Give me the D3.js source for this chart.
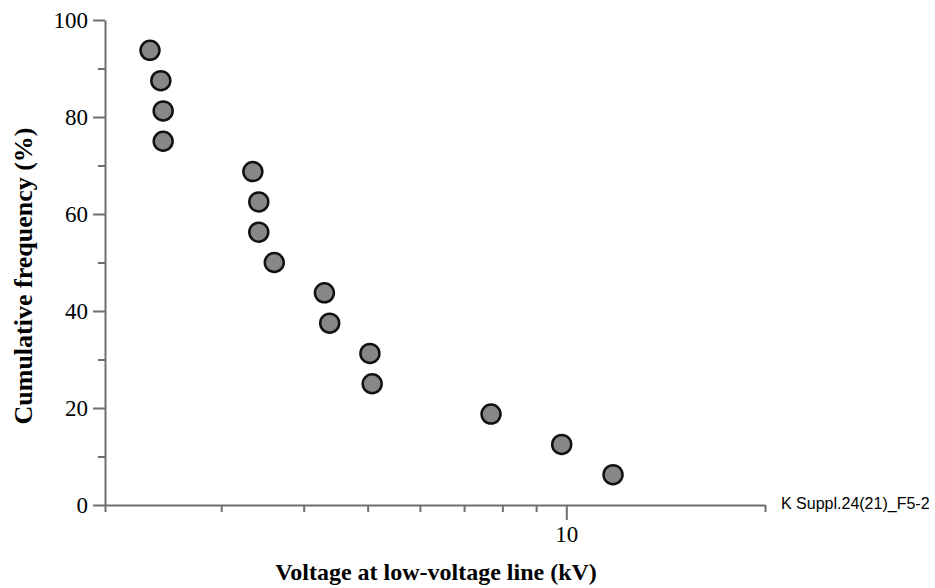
<!DOCTYPE html>
<html>
<head>
<meta charset="utf-8">
<script src="https://cdn.jsdelivr.net/npm/d3@7"></script>
<style>
    body { margin: 0; background: #fff; }
    .axis path, .axis line { stroke: #6e6e6e; stroke-width: 2px; }
    .axis text { font-family: "Liberation Serif", "Times New Roman", serif; font-size: 23px; fill: #000; }
    .title { font-family: "Liberation Serif", "Times New Roman", serif; font-weight: bold; }
</style>
</head>
<body>
<div id="chart"></div>
<script>
// measured points, voltage (kV) vs cumulative frequency (%)
let voltage = [2.34, 2.43, 2.45, 2.45, 3.35, 3.42, 3.42, 3.61, 4.30, 4.38, 5.04, 5.08, 7.69, 9.84, 11.77];
let frequency = [93.75, 87.5, 81.25, 75, 68.75, 62.5, 56.25, 50, 43.75, 37.5, 31.25, 25, 18.75, 12.5, 6.25];

let xMinorTicks = [2, 3, 4, 5, 6, 7, 8, 9, 20];
let xMajorTicks = [10];
let yMajorTicks = [0, 20, 40, 60, 80, 100];
let yMinorTicks = [10, 30, 50, 70, 90];

let margin = {top: 20, right: 170, bottom: 83, left: 105};
let width = 935 - margin.left - margin.right;
let height = 588 - margin.top - margin.bottom;

let svg = d3.select("#chart").append("svg")
    .attr("width", 935)
    .attr("height", 588);

let g = svg.append("g")
    .attr("transform", `translate(${margin.left}, ${margin.top})`);

let x = d3.scaleLog().domain([2, 20]).range([0, width]);
let y = d3.scaleLinear().domain([0, 100]).range([height, 0]);

// x axis: minor ticks first, then the labelled one
g.append("g")
    .attr("class", "axis")
    .attr("transform", `translate(0, ${height})`)
    .call(d3.axisBottom(x).tickValues(xMinorTicks).tickSize(7).tickSizeOuter(0).tickFormat(""));

g.append("g")
    .attr("class", "axis")
    .attr("transform", `translate(0, ${height})`)
    .call(d3.axisBottom(x).tickValues(xMajorTicks).tickSize(15).tickSizeOuter(0).tickPadding(6).tickFormat(d3.format("d")))
    .select(".domain").remove();

// y axis
g.append("g")
    .attr("class", "axis")
    .call(d3.axisLeft(y).tickValues(yMinorTicks).tickSize(7).tickSizeOuter(0).tickFormat(""));

g.append("g")
    .attr("class", "axis")
    .call(d3.axisLeft(y).tickValues(yMajorTicks).tickSize(12).tickSizeOuter(0).tickPadding(5))
    .select(".domain").remove();

// points
g.selectAll(".dot")
    .data(voltage.map((v, i) => ({v: v, f: frequency[i]})))
    .enter().append("circle")
    .attr("class", "dot")
    .attr("cx", d => x(d.v))
    .attr("cy", d => y(d.f))
    .attr("r", 9.5)
    .attr("fill", "#878787")
    .attr("stroke", "#111")
    .attr("stroke-width", 2.5);

// axis titles
svg.append("text")
    .attr("class", "title")
    .attr("x", 436)
    .attr("y", 580)
    .attr("text-anchor", "middle")
    .style("font-size", "24px")
    .text("Voltage at low-voltage line (kV)");

svg.append("text")
    .attr("class", "title")
    .attr("transform", "translate(32, 276) rotate(-90)")
    .attr("text-anchor", "middle")
    .style("font-size", "26px")
    .text("Cumulative frequency (%)");

// figure reference
svg.append("text")
    .attr("x", 781)
    .attr("y", 509)
    .style("font-family", "'Liberation Sans', Arial, sans-serif")
    .style("font-size", "16px")
    .text("K Suppl.24(21)_F5-2");
</script>
</body>
</html>
